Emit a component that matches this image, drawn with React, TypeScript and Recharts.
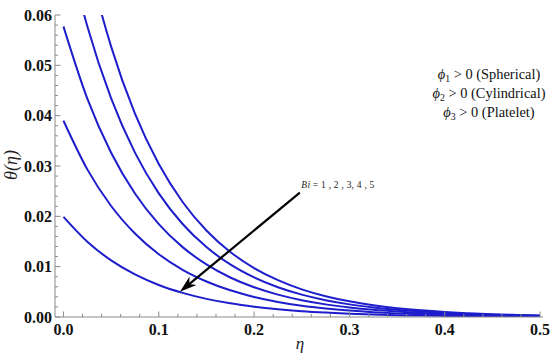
import React from 'react';
import { LineChart, Line, XAxis, YAxis, ReferenceLine } from 'recharts';

// eta sample positions
const etaValues = [0, 0.025, 0.05, 0.075, 0.1, 0.125, 0.15, 0.175, 0.2, 0.225, 0.25, 0.275, 0.3, 0.325, 0.35, 0.375, 0.4, 0.425, 0.45, 0.475, 0.5];
// theta(eta) for Bi = 1..5
const bi1 = [0.0199, 0.01496, 0.01125, 0.00846, 0.00636, 0.00479, 0.0036, 0.00271, 0.00204, 0.00153, 0.00115, 0.00087, 0.00065, 0.00049, 0.00037, 0.00028, 0.00021, 0.00016, 0.00012, 0.00009, 0.00007];
const bi2 = [0.039, 0.02933, 0.02205, 0.01659, 0.01247, 0.00938, 0.00706, 0.0053, 0.00399, 0.003, 0.00225, 0.0017, 0.00128, 0.00096, 0.00072, 0.00054, 0.00041, 0.00031, 0.00023, 0.00017, 0.00013];
const bi3 = [0.0577, 0.04339, 0.03263, 0.02454, 0.01845, 0.01388, 0.01044, 0.00785, 0.0059, 0.00444, 0.00334, 0.00251, 0.00189, 0.00142, 0.00107, 0.0008, 0.0006, 0.00045, 0.00034, 0.00026, 0.00019];
const bi4 = [0.0768, 0.05775, 0.04343, 0.03266, 0.02456, 0.01847, 0.01389, 0.01044, 0.00786, 0.00591, 0.00444, 0.00334, 0.00251, 0.00189, 0.00142, 0.00107, 0.0008, 0.0006, 0.00045, 0.00034, 0.00026];
const bi5 = [0.095, 0.07144, 0.05372, 0.0404, 0.03038, 0.02285, 0.01719, 0.01292, 0.00972, 0.00731, 0.00549, 0.00413, 0.00311, 0.00234, 0.00176, 0.00132, 0.00099, 0.00075, 0.00056, 0.00042, 0.00032];
const seriesKeys = ['bi1', 'bi2', 'bi3', 'bi4', 'bi5'];

// ticks
const xMajorTicks = [0, 0.1, 0.2, 0.3, 0.4, 0.5];
const yMajorTicks = [0, 0.01, 0.02, 0.03, 0.04, 0.05, 0.06];
const xDomain = [-0.0089, 0.5031];
const yDomain = [0, 0.06];

// arrow annotation
const arrowFrom = { x: 0.248, y: 0.0247 };
const arrowTo = { x: 0.1222, y: 0.00503 };
const arrowText = ['Bi', ' = 1 , 2 , 3, 4 , 5'];
const legendLines = [
  { sub: '1', text: ' > 0 (Spherical)' },
  { sub: '2', text: ' > 0 (Cylindrical)' },
  { sub: '3', text: ' > 0 (Platelet)' },
];

const data = etaValues.map((eta, i) => ({
  eta,
  bi1: bi1[i],
  bi2: bi2[i],
  bi3: bi3[i],
  bi4: bi4[i],
  bi5: bi5[i],
}));

function withMinor(majors: number[], sub: number) {
  const out: number[] = [];
  for (let i = 0; i < majors.length - 1; i++) {
    const a = majors[i];
    const b = majors[i + 1];
    for (let k = 0; k < sub; k++) out.push(+(a + ((b - a) * k) / sub).toFixed(6));
  }
  out.push(majors[majors.length - 1]);
  return out;
}
const xTicks = withMinor(xMajorTicks, 5);
const yTicks = withMinor(yMajorTicks, 5);
const isMajor = (v: number, list: number[]) => list.some((m) => Math.abs(m - v) < 1e-9);

const FRAME = '#8a8a8a';
const BLUE = '#1d1dcc';
const SERIF = '"Liberation Serif", "Times New Roman", serif';
const MAJ = 5.5;
const MIN = 3;

const BottomTick = (p: any) => {
  const v = p.payload.value;
  const maj = isMajor(v, xMajorTicks);
  return (
    <g>
      <line x1={p.x} x2={p.x} y1={p.y} y2={p.y - (maj ? MAJ : MIN)} stroke={FRAME} strokeWidth={1} />
      {maj && (
        <text x={p.x} y={p.y + 17.5} textAnchor="middle" fontFamily={SERIF} fontWeight="bold" fontSize={16} fill="#111">
          {v.toFixed(1)}
        </text>
      )}
    </g>
  );
};
const TopTick = (p: any) => {
  const maj = isMajor(p.payload.value, xMajorTicks);
  return <line x1={p.x} x2={p.x} y1={p.y} y2={p.y + (maj ? MAJ : MIN)} stroke={FRAME} strokeWidth={1} />;
};
const LeftTick = (p: any) => {
  const v = p.payload.value;
  const maj = isMajor(v, yMajorTicks);
  return (
    <g>
      <line x1={p.x} x2={p.x + (maj ? MAJ : MIN)} y1={p.y} y2={p.y} stroke={FRAME} strokeWidth={1} />
      {maj && (
        <text x={p.x - 3} y={p.y + 5.5} textAnchor="end" fontFamily={SERIF} fontWeight="bold" fontSize={16} fill="#111">
          {v.toFixed(2)}
        </text>
      )}
    </g>
  );
};
const RightTick = (p: any) => {
  const maj = isMajor(p.payload.value, yMajorTicks);
  return <line x1={p.x} x2={p.x - (maj ? MAJ : MIN)} y1={p.y} y2={p.y} stroke={FRAME} strokeWidth={1} />;
};

const ArrowShape = (p: any) => {
  const { x1, y1, x2, y2 } = p;
  const dx = x2 - x1;
  const dy = y2 - y1;
  const len = Math.sqrt(dx * dx + dy * dy) || 1;
  const ux = dx / len;
  const uy = dy / len;
  const nx = -uy;
  const ny = ux;
  const hl = 17;
  const hw = 5.5;
  const bx = x2 - ux * hl;
  const by = y2 - uy * hl;
  const nbx = x2 - ux * (hl - 5);
  const nby = y2 - uy * (hl - 5);
  return (
    <g>
      <line x1={x1} y1={y1} x2={nbx} y2={nby} stroke="#000" strokeWidth={2.2} />
      <polygon
        points={`${x2},${y2} ${bx + nx * hw},${by + ny * hw} ${nbx},${nby} ${bx - nx * hw},${by - ny * hw}`}
        fill="#000"
      />
      <text
        x={x1 + 1.5}
        y={y1 - 4.7}
        fontFamily={SERIF}
        fontSize={9.5}
        fill="#222"
        textLength={73}
        lengthAdjust="spacing"
      >
        <tspan fontStyle="italic">{arrowText[0]}</tspan>
        <tspan>{arrowText[1]}</tspan>
      </text>
    </g>
  );
};

export default function App() {
  return (
    <div style={{ position: 'absolute', left: 0, top: 0, width: 550, height: 357, background: '#fff' }}>
      <LineChart width={550} height={357} data={data} margin={{ top: 15, right: 7, bottom: 0, left: 0 }}>
        <XAxis
          dataKey="eta"
          type="number"
          domain={xDomain}
          allowDataOverflow
          ticks={xTicks}
          interval={0}
          tickSize={0}
          tickMargin={0}
          tickLine={false}
          tick={<BottomTick />}
          axisLine={{ stroke: FRAME, strokeWidth: 1 }}
          height={40}
        />
        <XAxis
          xAxisId="top"
          orientation="top"
          dataKey="eta"
          type="number"
          domain={xDomain}
          allowDataOverflow
          ticks={xTicks}
          interval={0}
          tickSize={0}
          tickMargin={0}
          tickLine={false}
          tick={<TopTick />}
          axisLine={{ stroke: FRAME, strokeWidth: 1 }}
          height={0}
        />
        <YAxis
          type="number"
          domain={yDomain}
          allowDataOverflow
          ticks={yTicks}
          interval={0}
          tickSize={0}
          tickMargin={0}
          tickLine={false}
          tick={<LeftTick />}
          axisLine={{ stroke: FRAME, strokeWidth: 1 }}
          width={55}
        />
        <YAxis
          yAxisId="right"
          orientation="right"
          type="number"
          domain={yDomain}
          allowDataOverflow
          ticks={yTicks}
          interval={0}
          tickSize={0}
          tickMargin={0}
          tickLine={false}
          tick={<RightTick />}
          axisLine={{ stroke: FRAME, strokeWidth: 1 }}
          width={0}
        />
        {seriesKeys.map((k) => (
          <Line
            key={k}
            dataKey={k}
            type="monotone"
            stroke={BLUE}
            strokeWidth={2}
            dot={false}
            activeDot={false}
            isAnimationActive={false}
          />
        ))}
        <ReferenceLine segment={[arrowFrom, arrowTo]} shape={ArrowShape} ifOverflow="visible" />
      </LineChart>
      <svg width={550} height={357} style={{ position: 'absolute', left: 0, top: 0, pointerEvents: 'none' }}>
        <text
          x={0}
          y={0}
          transform="translate(17,165) rotate(-90)"
          textAnchor="middle"
          fontFamily={SERIF}
          fontStyle="italic"
          fontSize={18}
          fill="#222"
        >
          θ(η)
        </text>
        <text x={300} y={349} textAnchor="middle" fontFamily={SERIF} fontStyle="italic" fontSize={17} fill="#222">
          η
        </text>
        {legendLines.map((l, i) => (
          <text
            key={l.sub}
            x={0}
            y={0}
            transform={`translate(489,${79 + i * 19}) scale(1.03,1)`}
            textAnchor="middle"
            fontFamily={SERIF}
            fontSize={14}
            fill="#111"
          >
            <tspan fontStyle="italic">ϕ</tspan>
            <tspan fontSize={9.5} dy={3}>
              {l.sub}
            </tspan>
            <tspan dy={-3}>{l.text}</tspan>
          </text>
        ))}
      </svg>
    </div>
  );
}
